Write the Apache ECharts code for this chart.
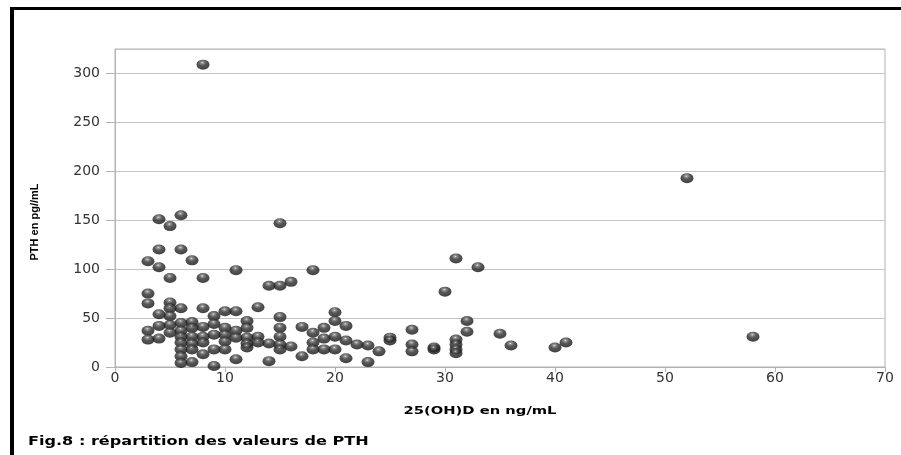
<!DOCTYPE html>
<html>
<head>
<meta charset="utf-8">
<script src="https://cdn.jsdelivr.net/npm/echarts@6/dist/echarts.min.js"></script>
<style>
html,body{margin:0;padding:0;background:#fff;}
#chart{width:901px;height:455px;}
</style>
</head>
<body>
<div id="chart"></div>
<script>
// 25(OH)D (ng/mL) values and matching PTH (pg/mL) values
const vitD = [3,3,3,3,3, 4,4,4,4,4,4, 5,5,5,5,5,5,5, 6,6,6,6,6,6,6,6,6,6, 7,7,7,7,7,7,7, 8,8,8,8,8,8,8, 9,9,9,9,9, 10,10,10,10,10, 11,11,11,11,11, 12,12,12,12,12, 13,13,13, 14,14,14, 15,15,15,15,15,15,15, 16,16, 17,17, 18,18,18,18, 19,19,19, 20,20,20,20, 21,21,21, 22, 23,23, 24, 25,25, 27,27,27, 29,29, 30, 31,31,31,31,31, 32,32, 33, 35, 36, 40, 41, 52, 58];
const pth  = [108,75,65,37,28, 151,120,102,54,42,29, 144,91,66,60,52,43,35, 155,120,60,45,37,31,25,18,11,4, 109,46,40,31,24,18,5, 309,91,60,41,31,25,13, 52,44,33,18,1, 57,40,33,26,18, 99,57,37,30,8, 47,40,30,24,20, 61,31,25, 83,24,6, 147,83,51,40,31,23,18, 87,21, 41,11, 99,35,25,18, 40,29,18, 56,47,31,18, 42,27,9, 23, 22,5, 16, 30,27, 38,23,16, 20,18, 77, 111,28,23,18,14, 47,36, 102, 34, 22, 20, 25, 193, 31];
const xTicks = [0,10,20,30,40,50,60,70];
const yTicks = [0,50,100,150,200,250,300];
const xName = '25(OH)D en ng/mL';
const yName = 'PTH en pg//mL';
const caption = 'Fig.8 : répartition des valeurs de PTH';

const points = vitD.map((v, i) => [v, pth[i]]);

const chart = echarts.init(document.getElementById('chart'));
const gray = '#b3b3b3';
chart.setOption({
  animation: false,
  backgroundColor: '#ffffff',
  grid: {left: 115, right: 16, top: 49, bottom: 88, show: true, borderColor: gray, borderWidth: 1},
  xAxis: {
    type: 'value', min: xTicks[0], max: xTicks[xTicks.length - 1], interval: 10,
    axisLine: {show: true, lineStyle: {color: gray}},
    axisTick: {show: true, length: 5, lineStyle: {color: gray}},
    splitLine: {show: false},
    axisLabel: {color: '#333', fontSize: 14, fontFamily: 'DejaVu Sans', margin: 4}
  },
  yAxis: {
    type: 'value', min: yTicks[0], max: 325, interval: 50,
    axisLine: {show: true, lineStyle: {color: gray}},
    axisTick: {show: true, length: 9, lineStyle: {color: gray}},
    splitLine: {show: true, lineStyle: {color: '#c4c4c4'}},
    axisLabel: {color: '#333', fontSize: 14, fontFamily: 'DejaVu Sans', margin: 15, showMaxLabel: false}
  },
  series: [{
    type: 'scatter',
    data: points,
    symbol: 'circle',
    symbolSize: [13, 10],
    itemStyle: {
      color: {
        type: 'radial', x: 0.45, y: 0.3, r: 0.8,
        colorStops: [
          {offset: 0, color: '#e6e6e6'},
          {offset: 0.12, color: '#7a7a7a'},
          {offset: 0.38, color: '#2e2e2e'},
          {offset: 1, color: '#0a0a0a'}
        ]
      }
    }
  }],
  graphic: [
    {type: 'rect', shape: {x: 10, y: 7, width: 891, height: 3}, style: {fill: '#000'}, silent: true},
    {type: 'rect', shape: {x: 10, y: 7, width: 4, height: 448}, style: {fill: '#000'}, silent: true},
    {type: 'text', x: 35, y: 222, rotation: Math.PI / 2,
     style: {text: yName, fill: '#000', font: 'bold 11px "Liberation Sans"', textAlign: 'center', textVerticalAlign: 'middle'}},
    {type: 'text', x: 480, y: 411, scaleX: 1.34,
     style: {text: xName, fill: '#000', font: 'bold 11px "DejaVu Sans"', textAlign: 'center', textVerticalAlign: 'middle'}},
    {type: 'text', x: 28, y: 442, scaleX: 1.34,
     style: {text: caption, fill: '#000', font: 'bold 12px "DejaVu Sans"', textAlign: 'left', textVerticalAlign: 'middle'}}
  ]
});
</script>
</body>
</html>
